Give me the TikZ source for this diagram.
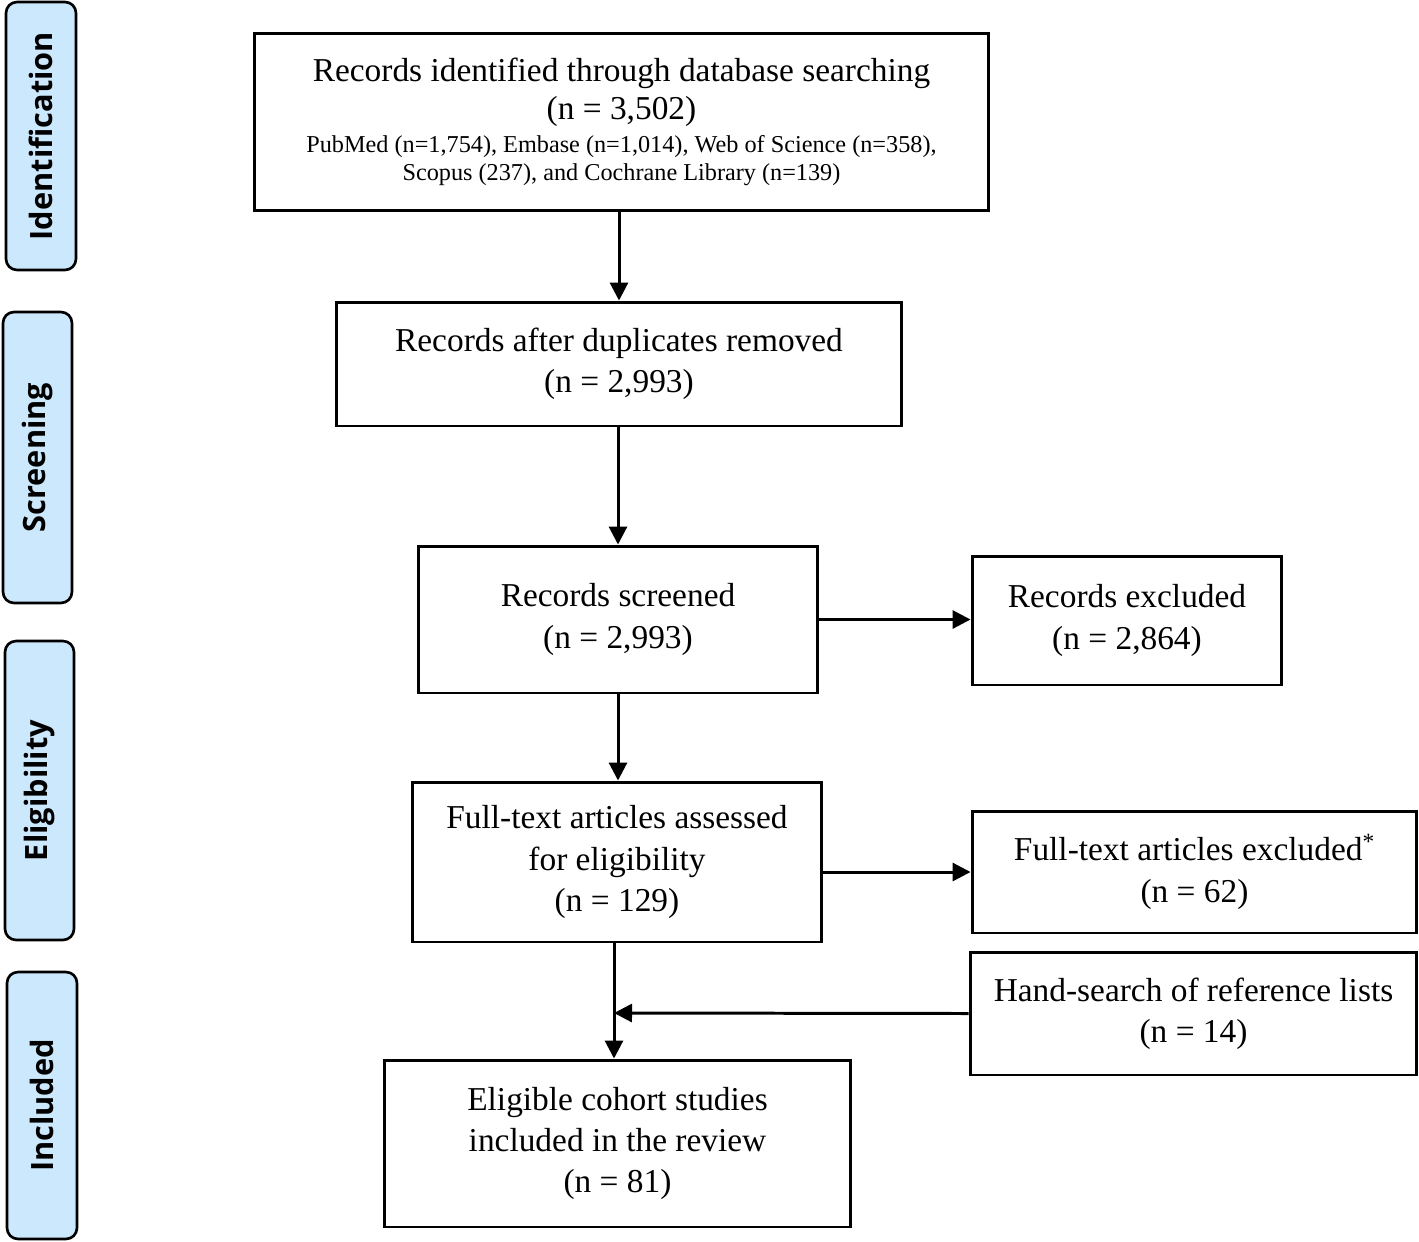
\documentclass[tikz,border=0pt]{standalone}
\usepackage{fontspec}
\setmainfont{Liberation Serif}
\newfontfamily\sidefont{Open Sans}
\usetikzlibrary{arrows.meta}
\definecolor{sideblue}{RGB}{204,232,252}
\begin{document}
\begin{tikzpicture}[x=0.02cm,y=-0.02cm,
  box/.style={draw,line width=1.7pt,align=center,inner sep=0pt,
    font=\fontsize{19}{23.5}\selectfont},
  side/.style={draw,line width=1.5pt,fill=sideblue,rounded corners=0.22cm,rotate=90,
    inner sep=0pt,font=\sidefont\bfseries\fontsize{17.5}{20}\selectfont},
  arr/.style={line width=1.7pt,-{Triangle[length=0.36cm,width=0.36cm]}},
  ln/.style={line width=1.7pt}]
\useasboundingbox (0,0) rectangle (1419,1241);
% side labels
\node[side,minimum width=5.36cm,minimum height=1.4cm] (sid) at (41,136) {Identification};
\node[side,minimum width=5.82cm,minimum height=1.38cm] (ssc) at (37.5,457.5) {Screening};
\node[side,minimum width=5.98cm,minimum height=1.38cm] (sel) at (39.5,790.5) {Eligibility};
\node[side,minimum width=5.34cm,minimum height=1.4cm] (sin) at (42,1105.5) {Included};
% main boxes
\node[box,minimum width=14.7cm,minimum height=3.56cm] (A) at (621.5,122)
  {Records identified through database searching\\[-1.8pt](n = 3,502)\\[-4.5pt]
   {\fontsize{13.8}{16}\selectfont PubMed (n=1,754), Embase (n=1,014), Web of Science (n=358),}\\[-7.6pt]
   {\fontsize{13.8}{16}\selectfont Scopus (237), and Cochrane Library (n=139)}};
\node[box,minimum width=11.32cm,minimum height=2.48cm] (B) at (619,364)
  {Records after duplicates removed\\(n = 2,993)};
\node[box,minimum width=8.0cm,minimum height=2.94cm] (C) at (618,619.5)
  {Records screened\\(n = 2,993)};
\node[box,minimum width=6.2cm,minimum height=2.58cm] (D) at (1127,620.5)
  {Records excluded\\(n = 2,864)};
\node[box,minimum width=8.2cm,minimum height=3.2cm] (E) at (617,862)
  {\rule{0pt}{0.3cm}Full-text articles assessed\\for eligibility\\(n = 129)};
\node[box,minimum width=8.9cm,minimum height=2.44cm] (F) at (1194.5,872)
  {Full-text articles excluded\textsuperscript{*}\\(n = 62)};
\node[box,minimum width=8.94cm,minimum height=2.46cm] (G) at (1193.5,1013.5)
  {Hand-search of reference lists\\(n = 14)};
\node[box,minimum width=9.34cm,minimum height=3.34cm] (H) at (617.5,1143.5)
  {Eligible cohort studies\\included in the review\\(n = 81)};
\coordinate (j) at (614,1013);
% connectors
\draw[arr] (B.north |- A.south) -- (B.north);
\draw[arr] (C.north |- B.south) -- (C.north);
\draw[arr] (C.south) -- (E.north -| C.south);
\draw[arr] (C.east) -- (D.west |- C.east);
\draw[arr] (E.east |- F.west) -- (F.west);
\draw[arr] (E.south -| j) -- (H.north -| j);
\draw[arr] (G.west) -- (j);
\end{tikzpicture}
\end{document}
